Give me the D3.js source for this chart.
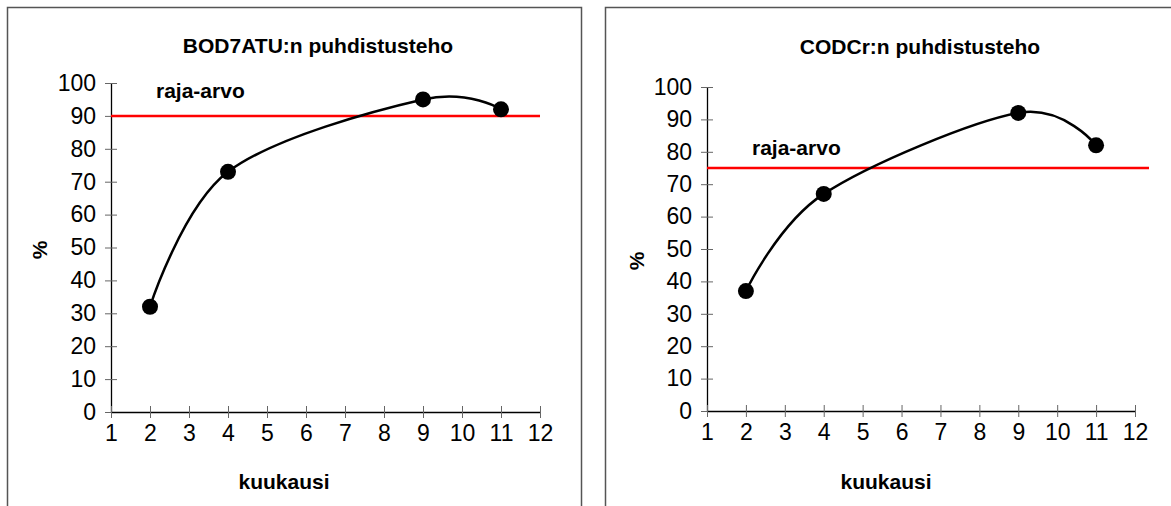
<!DOCTYPE html>
<html>
<head>
<meta charset="utf-8">
<script src="https://cdn.jsdelivr.net/npm/d3@7"></script>
<style>
  body { margin: 0; background: #fff; }
  text { font-family: "Liberation Sans", Arial, sans-serif; }
</style>
</head>
<body>
<script>
// data
var months = [2, 4, 9, 11]
var bodValues = [32, 73, 95, 92]
var codValues = [37, 67, 92, 82]
var bodLimit = 90
var codLimit = 75
var xTicks = [1, 2, 3, 4, 5, 6, 7, 8, 9, 10, 11, 12]
var yTicks = [0, 10, 20, 30, 40, 50, 60, 70, 80, 90, 100]
var titles = ["BOD7ATU:n puhdistusteho", "CODCr:n puhdistusteho"]
var limitLabel = "raja-arvo"
var xLabel = "kuukausi"
var yLabel = "%"

var w = 1171
var h = 506

var svg = d3.select("body").append("svg")
   .attr("width", w)
   .attr("height", h)

function drawChart(opt) {
  var g = svg.append("g")

  // panel frame (runs off the bottom of the picture)
  g.append("rect")
    .attr("x", opt.frame[0]).attr("y", opt.frame[1])
    .attr("width", opt.frame[2]).attr("height", opt.frame[3])
    .attr("fill", "none").attr("stroke", "#555").attr("stroke-width", 1.5)

  var x = d3.scaleLinear().domain([1, 12]).range(opt.xr)
  var y = d3.scaleLinear().domain([0, 100]).range(opt.yr)

  var yAxis = g.append("g")
    .attr("transform", "translate(" + opt.xr[0] + ",0)")
    .call(d3.axisLeft(y).tickValues(yTicks).tickSize(6).tickSizeOuter(0).tickPadding(9))
  var xAxis = g.append("g")
    .attr("transform", "translate(0," + opt.yr[0] + ")")
    .call(d3.axisBottom(x).tickValues(xTicks).tickSize(6).tickSizeOuter(0).tickPadding(7))

  ;[yAxis, xAxis].forEach(function(a) {
    a.attr("font-family", null).attr("font-size", 23)
    a.select(".domain").attr("stroke", "#000").attr("stroke-width", 1.3)
    a.selectAll(".tick text").attr("font-size", 23).attr("fill", "#000")
  })
  // ticks cross the axis line
  yAxis.selectAll(".tick line").attr("x1", 6).attr("x2", -6).attr("stroke", "#666")
  xAxis.selectAll(".tick line").attr("y1", -6).attr("y2", 6).attr("stroke", "#666")

  // limit line
  g.append("line")
    .attr("x1", opt.xr[0]).attr("x2", opt.limitEnd)
    .attr("y1", y(opt.limit)).attr("y2", y(opt.limit))
    .attr("stroke", "#ff0000").attr("stroke-width", 2.5)

  var pts = months.map(function(m, i) { return [m, opt.values[i]] })
  var line = d3.line()
    .x(function(d) { return x(d[0]) })
    .y(function(d) { return y(d[1]) })
    .curve(d3.curveCardinal.tension(0))

  g.append("path").datum(pts)
    .attr("d", line)
    .attr("fill", "none").attr("stroke", "#000").attr("stroke-width", 2.5)

  g.selectAll("circle.pt").data(pts).enter().append("circle")
    .attr("class", "pt")
    .attr("cx", function(d) { return x(d[0]) })
    .attr("cy", function(d) { return y(d[1]) })
    .attr("r", 8).attr("fill", "#000")

  g.append("text")
    .attr("x", opt.titlePos[0]).attr("y", opt.titlePos[1])
    .attr("text-anchor", "middle").attr("dominant-baseline", "central")
    .attr("font-size", 21).attr("font-weight", "bold")
    .text(opt.title)

  g.append("text")
    .attr("x", opt.limitPos[0]).attr("y", opt.limitPos[1])
    .attr("dominant-baseline", "central")
    .attr("font-size", 21).attr("font-weight", "bold")
    .text(limitLabel)

  g.append("text")
    .attr("x", opt.xLabelPos[0]).attr("y", opt.xLabelPos[1])
    .attr("text-anchor", "middle").attr("dominant-baseline", "central")
    .attr("font-size", 21).attr("font-weight", "bold")
    .text(xLabel)

  g.append("text")
    .attr("transform", "translate(" + opt.yLabelPos[0] + "," + opt.yLabelPos[1] + ") rotate(-90)")
    .attr("text-anchor", "middle").attr("dominant-baseline", "central")
    .attr("font-size", 21).attr("font-weight", "bold")
    .text(yLabel)
}

drawChart({
  frame: [7.5, 7.5, 574, 520],
  xr: [111, 540], yr: [412, 83],
  values: bodValues, limit: bodLimit, limitEnd: 540,
  title: titles[0], titlePos: [318, 45],
  limitPos: [156, 90],
  xLabelPos: [284, 481], yLabelPos: [39, 250]
})

drawChart({
  frame: [605.5, 7.5, 600, 520],
  xr: [707, 1135], yr: [411, 87],
  values: codValues, limit: codLimit, limitEnd: 1149,
  title: titles[1], titlePos: [920, 46],
  limitPos: [752, 147],
  xLabelPos: [886, 481], yLabelPos: [636, 261]
})
</script>
</body>
</html>
